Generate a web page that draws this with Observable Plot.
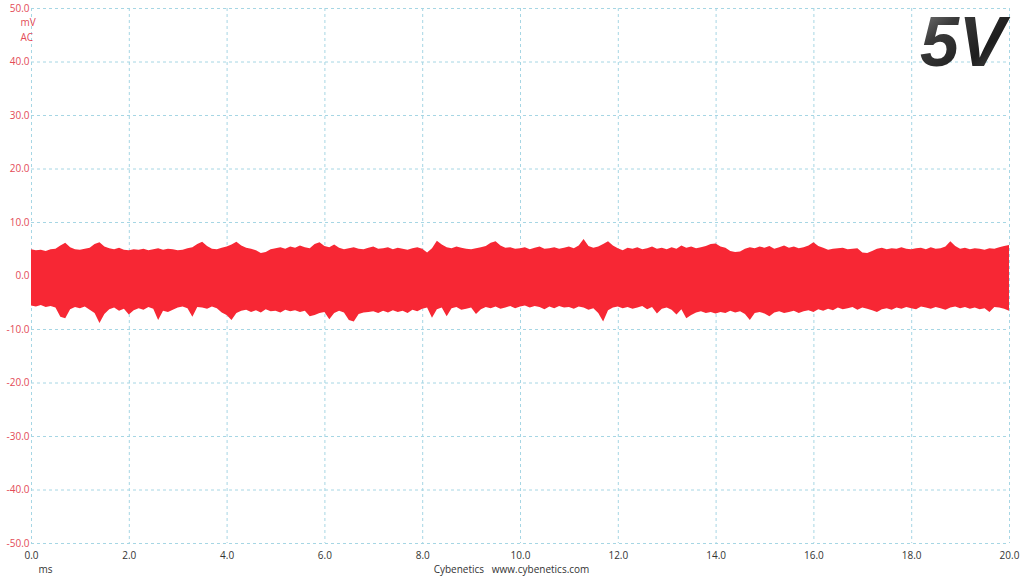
<!DOCTYPE html>
<html>
<head>
<meta charset="utf-8">
<script src="https://cdn.jsdelivr.net/npm/d3@7"></script>
<script src="https://cdn.jsdelivr.net/npm/@observablehq/plot@0.6"></script>
<style>
  html, body { margin: 0; padding: 0; background: #ffffff; }
  #chart svg { display: block; }
</style>
</head>
<body>
<div id="chart"></div>
<script>
// Time axis step (ms) between envelope samples
const timeStep = 0.1;
// Upper envelope of the ripple (mV), t = 0.0 .. 20.0 ms
const upperMv = [
  4.9, 4.7, 4.8, 4.6, 4.9, 5.0, 5.6, 6.1, 5.3, 4.9,
  4.8, 5.0, 5.2, 5.9, 6.2, 5.4, 5.1, 4.9, 5.2, 4.8,
  4.7, 4.9, 4.8, 5.0, 4.7, 4.9, 5.1, 4.8, 5.0, 4.9,
  4.7, 4.8, 5.1, 5.3, 5.9, 6.3, 5.5, 5.0, 4.9, 5.2,
  5.4, 5.8, 6.3, 5.6, 5.2, 5.0, 4.7, 4.2, 4.4, 4.9,
  5.1, 5.3, 5.0, 5.4, 5.2, 5.6, 5.3, 5.1, 5.9, 6.2,
  5.5, 5.3, 5.8, 5.2, 4.9, 5.1, 5.3, 5.0, 4.9, 5.2,
  5.4, 5.0, 5.1, 5.3, 4.9, 5.2, 5.0, 4.8, 5.1, 5.3,
  5.0, 4.3, 5.1, 6.5, 5.8, 5.3, 5.1, 5.4, 5.2, 5.0,
  4.9, 5.1, 5.3, 5.5, 6.1, 6.4, 5.6, 5.2, 5.3, 5.0,
  5.1, 5.3, 4.9, 5.2, 5.4, 5.0, 5.1, 5.3, 5.0, 5.2,
  5.4, 5.1, 5.6, 6.8, 5.5, 5.2, 5.4, 5.9, 6.4, 5.6,
  5.1, 4.7, 5.2, 5.0, 5.3, 4.9, 5.1, 5.4, 5.0, 5.2,
  4.9, 5.3, 5.0, 5.6, 5.2, 5.4, 5.1, 5.3, 5.5, 5.9,
  6.0, 5.4, 5.2, 4.6, 4.4, 4.5, 5.0, 5.3, 5.1, 5.4,
  5.2, 5.5, 5.0, 5.3, 5.6, 5.2, 5.4, 5.1, 5.3, 5.6,
  6.2, 5.5, 5.2, 4.8, 5.0, 5.1, 5.2, 4.9, 5.0, 5.1,
  4.3, 4.2, 4.6, 5.0, 5.2, 4.9, 5.1, 5.0, 5.3, 5.0,
  4.9, 5.1, 5.2, 4.9, 5.3, 5.0, 5.1, 5.4, 6.4, 5.5,
  5.0, 5.2, 4.9, 5.1, 5.0, 4.8, 5.1, 5.0, 5.3, 5.5,
  5.7
];
// Lower envelope of the ripple (mV), t = 0.0 .. 20.0 ms
const lowerMv = [
  -5.6, -5.8, -5.5, -5.9, -5.7, -6.0, -7.7, -8.0, -6.3, -5.9,
  -6.1, -5.8, -6.4, -7.0, -8.9, -7.2, -6.3, -6.0, -6.6, -6.2,
  -7.3, -6.5, -6.1, -6.4, -5.9, -6.2, -8.3, -6.6, -6.8, -6.4,
  -6.0, -5.8, -6.1, -7.7, -5.9, -6.0, -6.2, -5.8, -6.1, -6.9,
  -7.4, -8.3, -7.0, -6.6, -6.4, -6.8, -6.5, -6.9, -6.3, -6.7,
  -6.6, -6.9, -6.4, -6.7, -6.5, -6.8, -6.6, -7.6, -7.4, -7.0,
  -6.8, -8.2, -7.0, -6.6, -6.9, -8.3, -8.6, -7.2, -6.9, -6.8,
  -6.7, -7.0, -6.6, -6.9, -6.5, -6.8, -6.6, -7.0, -6.4, -6.7,
  -6.2, -6.0, -7.9, -6.3, -6.0, -7.6, -6.1, -5.9, -6.4, -6.2,
  -6.0, -7.2, -6.3, -5.9, -6.1, -5.8, -6.2, -6.0, -5.7, -6.1,
  -5.8, -5.6, -6.0, -5.7, -5.9, -6.3, -5.8, -6.1, -5.7, -6.0,
  -5.9, -6.2, -5.8, -6.0, -6.4, -6.1, -7.0, -8.6, -6.5, -6.0,
  -5.8, -6.1, -5.9, -6.2, -6.0, -5.7, -6.3, -5.9, -7.1, -6.2,
  -6.0, -6.4, -7.3, -6.3, -8.0, -7.4, -6.9, -6.7, -7.0, -6.8,
  -7.1, -6.8, -7.0, -6.6, -6.9, -6.7, -7.2, -8.3, -7.0, -6.8,
  -7.1, -7.6, -6.9, -6.7, -7.0, -6.8, -6.6, -7.0, -6.7, -6.5,
  -6.8, -6.3, -6.6, -6.2, -6.5, -6.0, -6.3, -6.1, -5.9, -6.4,
  -6.0, -6.2, -6.5, -6.8, -6.3, -6.1, -6.4, -6.0, -6.2, -5.9,
  -6.1, -6.3, -5.8, -6.0, -6.2, -5.9, -6.1, -6.4, -6.0, -5.8,
  -6.1, -5.9, -6.2, -6.0, -6.3, -6.1, -6.8, -5.9, -6.0, -6.2,
  -6.6
];
// Tick values
const xTicks = [0, 2, 4, 6, 8, 10, 12, 14, 16, 18, 20];
const yTicks = [-50, -40, -30, -20, -10, 0, 10, 20, 30, 40, 50];
// Text
const railLabel = "5V";
const yUnitLabels = ["mV", "AC"];
const xUnitLabel = "ms";
const caption = "Cybenetics   www.cybenetics.com";

const rows = upperMv.map((u, i) => ({ t: +(i * timeStep).toFixed(1), hi: u, lo: lowerMv[i] }));

const RED = "#f72734";
const LABEL_RED = "#e34b57";
const GRID = "#a6d6e4";
const FONT = "'Open Sans', 'Noto Sans', sans-serif";

const chart = Plot.plot({
  width: 1024,
  height: 576,
  marginLeft: 31,
  marginRight: 15,
  marginTop: 8,
  marginBottom: 33,
  style: { background: "#ffffff", fontFamily: FONT, fontSize: "10px" },
  x: { domain: [0, 20], ticks: xTicks },
  y: { domain: [-50, 50], ticks: yTicks },
  marks: [
    Plot.gridX(xTicks, { stroke: GRID, strokeOpacity: 1, strokeDasharray: "3,3", strokeWidth: 1 }),
    Plot.gridY(yTicks, { stroke: GRID, strokeOpacity: 1, strokeDasharray: "3,3", strokeWidth: 1 }),
    Plot.areaY(rows, { x: "t", y1: "lo", y2: "hi", fill: RED, curve: "linear" }),
    Plot.axisY(yTicks, { tickSize: 0, tickPadding: 2, tickFormat: d => d.toFixed(1), fill: LABEL_RED, label: null, fontSize: 10 }),
    Plot.axisX(xTicks, { tickSize: 0, tickPadding: 8, tickFormat: d => d.toFixed(1), fill: "#333333", label: null, fontSize: 10 }),
    Plot.text([yUnitLabels[0]], { text: d => d, frameAnchor: "top-left", dx: -11, dy: 14, fill: LABEL_RED, fontSize: 10, lineAnchor: "middle" }),
    Plot.text([yUnitLabels[1]], { text: d => d, frameAnchor: "top-left", dx: -11, dy: 29, fill: LABEL_RED, fontSize: 10, lineAnchor: "middle" }),
    Plot.text([xUnitLabel], { text: d => d, frameAnchor: "bottom-left", dx: 7, dy: 26, fill: "#333333", fontSize: 10, lineAnchor: "middle" }),
    Plot.text([caption], { text: d => d, frameAnchor: "bottom", dx: -9, dy: 26, fill: "#333333", fontSize: 10, lineAnchor: "middle" }),
    Plot.text([railLabel], { text: d => d, frameAnchor: "top-right", dx: -4, dy: 57, textAnchor: "end", lineAnchor: "bottom",
      fill: "url(#g5v)", fontSize: 70, fontWeight: "bold", fontStyle: "italic", fontFamily: "'Liberation Sans', Arial, sans-serif" })
  ]
});

const ns = "http://www.w3.org/2000/svg";
const svg = chart.tagName.toLowerCase() === "svg" ? chart : chart.querySelector("svg");
const defs = document.createElementNS(ns, "defs");
const grad = document.createElementNS(ns, "linearGradient");
grad.setAttribute("id", "g5v");
grad.setAttribute("x1", "0"); grad.setAttribute("y1", "0");
grad.setAttribute("x2", "1"); grad.setAttribute("y2", "1");
[["0", "#8a8a8a"], ["0.3", "#3a3a3a"], ["0.65", "#1e1e1e"], ["1", "#606060"]].forEach(([o, c]) => {
  const s = document.createElementNS(ns, "stop");
  s.setAttribute("offset", o); s.setAttribute("stop-color", c);
  grad.appendChild(s);
});
defs.appendChild(grad);
svg.insertBefore(defs, svg.firstChild);

document.getElementById("chart").appendChild(chart);
</script>
</body>
</html>
